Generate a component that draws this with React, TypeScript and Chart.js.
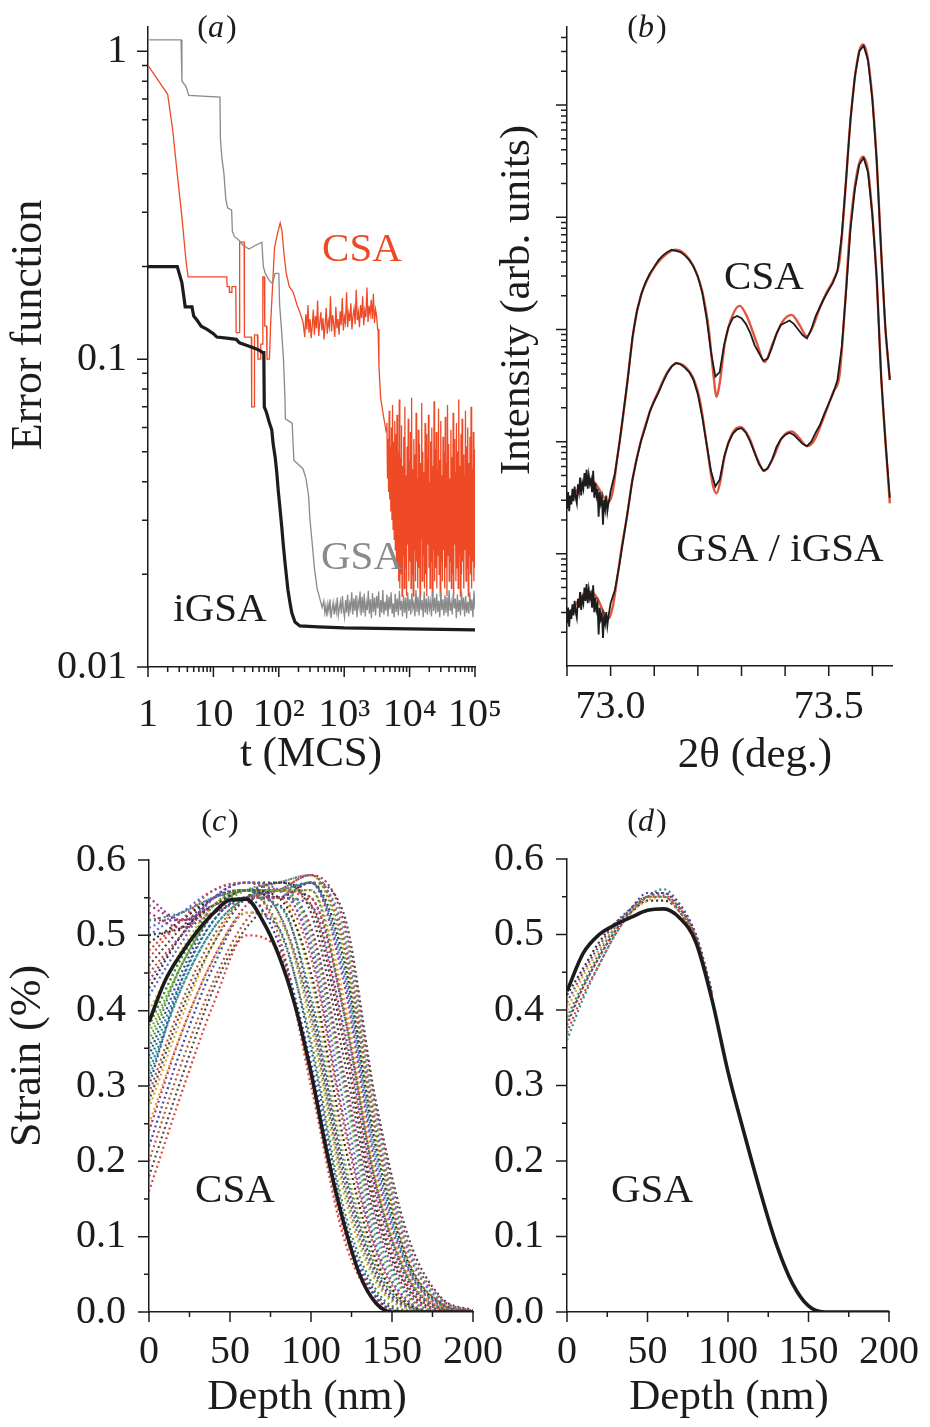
import React, { useEffect, useRef } from 'react';
import { Chart, registerables } from 'chart.js';
Chart.register(...registerables);

const FONT = '"Liberation Serif", "Times New Roman", "DejaVu Serif", serif';
const INK = '#1c1c1c';
const RED = '#ee4a26';
const FIT_RED = '#e2553c';
const GRAY = '#8a8a8a';

// ---------------- Panel (a): error function vs t (MCS) ----------------
const aXTickValues = [1, 10, 100, 1000, 10000, 100000];
const aXTickLabels = ['1', '10', '10²', '10³', '10⁴', '10⁵'];
const aYTickValues = [0.01, 0.1, 1];
const aYTickLabels = ['0.01', '0.1', '1'];

// iGSA  [t, E]
const aIgsaPoints = [[1, 0.2], [2.8, 0.2], [3.0, 0.19], [3.3, 0.177], [3.6, 0.155], [3.7, 0.148], [4.7, 0.148], [5.0, 0.138], [5.6, 0.134], [6.5, 0.128], [8, 0.125], [10, 0.121], [11.3, 0.118], [16, 0.117], [22.4, 0.116], [25, 0.113], [32, 0.111], [40.6, 0.109], [50, 0.107], [57, 0.105], [59, 0.105], [60, 0.07], [65, 0.067], [72, 0.062], [78, 0.059], [82, 0.053], [88, 0.048], [93, 0.043], [98, 0.0375], [104, 0.033], [111, 0.0285], [117, 0.025], [124, 0.022], [130, 0.02], [138, 0.0178], [148, 0.0162], [158, 0.015], [177, 0.014], [210, 0.0136], [400, 0.0135], [1000, 0.0134], [10000, 0.0133], [100000, 0.0132]];

// GSA  [t, E] before the noisy plateau
const aGsaPoints = [[1, 1.09], [3.2, 1.09], [3.3, 0.8], [3.8, 0.77], [4.2, 0.72], [12.6, 0.71], [12.8, 0.52], [13.5, 0.45], [14.5, 0.4], [15.5, 0.33], [16.5, 0.31], [19, 0.305], [19.5, 0.26], [21, 0.25], [24, 0.245], [28, 0.235], [35, 0.228], [45, 0.235], [55, 0.24], [58, 0.2], [62, 0.19], [72, 0.18], [80, 0.176], [88, 0.19], [100, 0.19], [103, 0.15], [110, 0.125], [118, 0.1], [124, 0.075], [126, 0.064], [160, 0.062], [170, 0.047], [235, 0.044], [260, 0.041], [285, 0.036], [300, 0.03], [320, 0.026], [350, 0.021], [385, 0.018], [430, 0.0165], [460, 0.0156]];
// GSA plateau noise (E x 1e-3), t from 470 to 1e5
const aGsaNoiseRange = [470, 100000];
const aGsaNoiseMilli = [15.6, 16.4, 15.0, 15.8, 14.6, 16.0, 15.2, 16.6, 14.4, 15.4, 16.2, 14.8, 15.9, 15.1, 16.8, 14.7, 15.5, 16.3, 14.9, 17.0, 15.3, 14.5, 16.5, 15.0, 17.2, 14.6, 16.1, 15.4, 17.5, 14.8, 16.7, 15.2, 17.1, 14.5, 16.4, 15.6, 17.6, 14.7, 16.9, 15.0, 17.3, 14.6, 16.2, 15.3, 17.7, 14.9, 16.6, 14.4, 17.4, 15.1, 16.8, 14.7, 17.0, 15.5, 17.6, 14.5, 16.5, 15.0, 17.8, 14.8, 16.3, 15.2, 17.2, 14.6, 16.9, 15.4, 17.5, 14.9, 16.1, 14.5, 17.3, 15.1, 16.7, 14.7, 17.7, 15.3, 16.4, 14.6, 17.1, 15.0, 16.8, 14.4, 17.5, 15.2, 16.6, 14.8, 17.4, 15.5, 16.2, 14.6, 17.8, 15.1, 16.9, 14.7, 17.2, 15.3, 16.5, 14.5, 17.6, 15.0, 16.7, 14.8, 17.0, 15.4, 16.3, 14.6, 17.7, 15.2, 16.8, 14.9, 17.3, 15.1, 16.4, 14.5, 17.5, 15.3, 16.6, 14.7, 17.1, 15.0, 16.9, 14.6, 17.8, 15.2, 16.2, 14.8, 17.4, 15.5, 16.7, 14.4, 17.2, 15.1, 16.5, 14.7, 17.6, 15.3, 16.8, 14.6, 17.0, 15.0, 16.3, 14.9, 17.5, 15.2, 16.6, 14.5, 17.7, 15.4];

// CSA  [t, E] early part
const aCsaPoints = [[1, 0.9], [2.0, 0.725], [2.4, 0.55], [2.8, 0.4], [3.3, 0.29], [3.8, 0.21], [4.1, 0.185], [16, 0.185], [16.2, 0.172], [17.5, 0.172], [17.6, 0.165], [19, 0.165], [19.2, 0.172], [22, 0.172], [22.3, 0.122], [25, 0.122], [25.2, 0.24], [29.5, 0.24], [29.8, 0.118], [38, 0.118], [38.5, 0.07], [42, 0.07], [42.5, 0.12], [47, 0.12], [48, 0.1], [52, 0.1], [53, 0.112], [56, 0.112], [57, 0.185], [60, 0.185], [61, 0.128], [65, 0.128], [66, 0.1], [72, 0.1], [75, 0.13], [80, 0.17], [86, 0.23], [95, 0.255], [105, 0.277], [112, 0.26], [120, 0.22], [130, 0.19], [145, 0.172], [166, 0.165], [190, 0.15], [210, 0.142], [235, 0.132]];
// CSA first noisy plateau (E x 1e-3), t from 240 to 3250
const aCsaMidRange = [240, 3250];
const aCsaMidMilli = [132, 118, 140, 125, 150, 122, 135, 117, 128, 145, 120, 138, 126, 155, 119, 131, 142, 124, 136, 116, 129, 147, 121, 133, 127, 160, 123, 139, 130, 118, 148, 126, 135, 120, 143, 129, 158, 124, 137, 131, 165, 127, 141, 133, 152, 125, 138, 146, 130, 168, 134, 142, 127, 150, 136, 160, 129, 144, 137, 171, 132, 149, 140, 156, 135, 163, 131, 145, 138, 125];
const aCsaDropPoints = [[3300, 0.125], [3400, 0.095], [3600, 0.075], [4000, 0.065], [4400, 0.058]];
// CSA wide noisy band (E x 1e-3), t from 4500 to 1e5
const aCsaBandRange = [4500, 100000];
const aCsaBandMilli = [62, 41, 55, 37, 68, 35, 52, 32, 60, 30, 71, 28, 54, 26, 63, 24, 57, 22, 66, 21, 50, 19, 74, 18, 48, 20, 61, 17, 45, 23, 56, 18, 70, 21, 42, 17, 52, 25, 64, 19, 47, 22, 58, 18, 75, 20, 44, 17, 55, 24, 49, 19, 67, 22, 41, 18, 59, 21, 53, 17, 46, 26, 72, 19, 50, 23, 43, 18, 62, 20, 57, 17, 48, 25, 66, 21, 40, 18, 54, 22, 60, 17, 45, 24, 73, 19, 51, 21, 58, 18, 44, 23, 69, 20, 47, 17, 63, 22, 42, 19, 56, 24, 50, 18, 65, 21, 46, 17, 71, 23, 53, 19, 41, 22, 59, 18, 48, 20, 67, 17, 55, 25, 43, 19, 62, 21, 50, 18, 74, 23, 45, 17, 57, 20, 64, 22, 49, 18, 42, 24, 68, 19, 52, 21, 60, 17, 46, 23, 56, 20, 70, 18, 44, 22, 58, 19, 51, 21];

// ---------------- Panel (b): intensity vs 2theta ----------------
const bXTickValues = [73.0, 73.5];
const bXTickLabels = ['73.0', '73.5'];
const bXTickMarks = [72.9, 73.0, 73.1, 73.2, 73.3, 73.4, 73.5, 73.6];
// values are log10(intensity)
const bFitCsa = [[72.9, 1.46], [72.92, 1.55], [72.94, 1.64], [72.955, 1.66], [72.97, 1.6], [72.985, 1.5], [72.995, 1.46], [73.005, 1.56], [73.015, 1.85], [73.025, 2.12], [73.035, 2.42], [73.045, 2.76], [73.055, 3.05], [73.07, 3.31], [73.085, 3.45], [73.105, 3.58], [73.13, 3.68], [73.15, 3.71], [73.175, 3.65], [73.195, 3.52], [73.21, 3.34], [73.225, 3.0], [73.235, 2.62], [73.243, 2.4], [73.25, 2.52], [73.262, 2.88], [73.28, 3.13], [73.296, 3.21], [73.312, 3.12], [73.335, 2.88], [73.353, 2.71], [73.372, 2.88], [73.394, 3.07], [73.415, 3.13], [73.433, 3.04], [73.45, 2.94], [73.465, 3.04], [73.48, 3.2], [73.495, 3.33], [73.512, 3.45], [73.525, 3.62], [73.537, 4.18], [73.548, 4.78], [73.56, 5.25], [73.57, 5.48], [73.578, 5.54], [73.588, 5.45], [73.6, 5.06], [73.61, 4.5], [73.62, 3.72], [73.63, 3.0], [73.64, 2.55]];
const bFitGsa = [[72.9, 0.45], [72.92, 0.55], [72.94, 0.64], [72.955, 0.66], [72.97, 0.6], [72.985, 0.47], [72.995, 0.42], [73.005, 0.53], [73.015, 0.78], [73.025, 1.05], [73.037, 1.32], [73.05, 1.66], [73.067, 1.97], [73.09, 2.27], [73.112, 2.47], [73.13, 2.62], [73.151, 2.7], [73.17, 2.67], [73.19, 2.56], [73.205, 2.36], [73.22, 1.98], [73.235, 1.6], [73.243, 1.54], [73.25, 1.62], [73.262, 1.88], [73.28, 2.08], [73.298, 2.13], [73.317, 2.04], [73.337, 1.84], [73.352, 1.74], [73.372, 1.85], [73.392, 2.03], [73.415, 2.09], [73.433, 2.03], [73.45, 1.96], [73.465, 2.0], [73.487, 2.2], [73.51, 2.44], [73.525, 2.6], [73.537, 3.2], [73.548, 3.85], [73.564, 4.38], [73.578, 4.54], [73.59, 4.42], [73.6, 4.02], [73.61, 3.45], [73.62, 2.6], [73.63, 2.0], [73.64, 1.45]];
// measured: noisy start sampled every 0.0025 deg from 72.9, then every 0.01 deg from 73.01
const bNoiseStart = 72.9, bNoiseStep = 0.0025, bMainStart = 73.01, bMainStep = 0.01;
const bMeasCsaNoise = [1.40, 1.55, 1.38, 1.52, 1.44, 1.58, 1.47, 1.60, 1.50, 1.45, 1.62, 1.55, 1.68, 1.52, 1.63, 1.58, 1.72, 1.60, 1.75, 1.58, 1.70, 1.62, 1.66, 1.55, 1.74, 1.50, 1.63, 1.52, 1.58, 1.33, 1.55, 1.45, 1.50, 1.26, 1.48, 1.40, 1.52, 1.38, 1.45, 1.50, 1.56];
const bMeasCsaMain = [1.72, 1.98, 2.28, 2.58, 2.93, 3.16, 3.31, 3.42, 3.50, 3.56, 3.62, 3.66, 3.69, 3.71, 3.70, 3.69, 3.66, 3.62, 3.56, 3.47, 3.33, 3.10, 2.80, 2.58, 2.62, 2.86, 3.02, 3.10, 3.12, 3.10, 3.05, 2.97, 2.86, 2.79, 2.72, 2.74, 2.84, 2.96, 3.04, 3.06, 3.08, 3.05, 3.00, 2.95, 2.92, 3.00, 3.12, 3.20, 3.28, 3.35, 3.42, 3.52, 3.85, 4.35, 4.88, 5.26, 5.48, 5.53, 5.40, 5.05, 4.50, 3.70, 3.00, 2.55];
const bMeasGsaNoise = [0.38, 0.52, 0.35, 0.50, 0.42, 0.55, 0.45, 0.58, 0.48, 0.43, 0.60, 0.52, 0.66, 0.50, 0.61, 0.56, 0.70, 0.58, 0.73, 0.56, 0.68, 0.60, 0.64, 0.52, 0.72, 0.48, 0.61, 0.50, 0.55, 0.28, 0.52, 0.42, 0.46, 0.25, 0.44, 0.38, 0.48, 0.36, 0.44, 0.50, 0.56];
const bMeasGsaMain = [0.68, 0.90, 1.15, 1.40, 1.66, 1.85, 2.01, 2.13, 2.27, 2.36, 2.44, 2.53, 2.61, 2.67, 2.70, 2.69, 2.66, 2.62, 2.55, 2.42, 2.22, 1.98, 1.74, 1.60, 1.66, 1.86, 1.99, 2.07, 2.11, 2.12, 2.08, 2.00, 1.90, 1.80, 1.74, 1.76, 1.84, 1.95, 2.02, 2.06, 2.08, 2.06, 2.02, 1.98, 1.96, 2.00, 2.08, 2.15, 2.25, 2.34, 2.43, 2.55, 2.85, 3.35, 3.90, 4.25, 4.47, 4.53, 4.40, 4.02, 3.45, 2.58, 2.00, 1.50];

// ---------------- Panels (c) and (d): strain vs depth ----------------
const depthTickValues = [0, 50, 100, 150, 200];
const depthTickLabels = ['0', '50', '100', '150', '200'];
const strainTickValues = [0, 0.1, 0.2, 0.3, 0.4, 0.5, 0.6];
const strainTickLabels = ['0.0', '0.1', '0.2', '0.3', '0.4', '0.5', '0.6'];
const depthFine = [0, 10, 20, 30, 40, 50, 60, 70, 80, 90, 100, 110, 120, 130, 140, 150, 160, 170, 180, 190, 200];
const depthCoarse = [0, 20, 40, 60, 80, 100, 120, 140, 160, 180, 200];
const depthNear = [0, 10, 20, 30, 40, 50, 60, 70, 80, 90];

const cBestCsa = [0.385, 0.44, 0.476, 0.506, 0.53, 0.547, 0.548, 0.52, 0.474, 0.408, 0.318, 0.21, 0.12, 0.05, 0.012, 0, 0, 0, 0, 0, 0];
const cRunsCsa = [
  [0.16, 0.29, 0.41, 0.50, 0.48, 0.30, 0.10, 0.015, 0, 0, 0],
  [0.30, 0.44, 0.52, 0.55, 0.49, 0.33, 0.12, 0.02, 0, 0, 0],
  [0.38, 0.47, 0.54, 0.56, 0.51, 0.36, 0.14, 0.03, 0.002, 0, 0],
  [0.25, 0.37, 0.47, 0.53, 0.52, 0.38, 0.16, 0.04, 0.004, 0, 0],
  [0.44, 0.50, 0.55, 0.56, 0.53, 0.40, 0.18, 0.05, 0.006, 0, 0],
  [0.33, 0.44, 0.52, 0.55, 0.54, 0.42, 0.20, 0.06, 0.008, 0, 0],
  [0.50, 0.51, 0.54, 0.56, 0.55, 0.45, 0.23, 0.07, 0.01, 0, 0],
  [0.20, 0.33, 0.44, 0.52, 0.55, 0.47, 0.25, 0.08, 0.012, 0, 0],
  [0.42, 0.49, 0.55, 0.57, 0.56, 0.49, 0.28, 0.09, 0.015, 0, 0],
  [0.36, 0.46, 0.53, 0.56, 0.56, 0.50, 0.30, 0.10, 0.02, 0.001, 0],
  [0.53, 0.51, 0.53, 0.55, 0.55, 0.51, 0.32, 0.12, 0.025, 0.002, 0],
  [0.28, 0.40, 0.49, 0.55, 0.57, 0.53, 0.34, 0.13, 0.03, 0.003, 0],
  [0.47, 0.52, 0.56, 0.57, 0.56, 0.54, 0.37, 0.15, 0.035, 0.004, 0],
  [0.34, 0.45, 0.53, 0.56, 0.55, 0.54, 0.38, 0.16, 0.04, 0.005, 0],
  [0.52, 0.53, 0.55, 0.56, 0.56, 0.56, 0.40, 0.17, 0.045, 0.006, 0],
  [0.40, 0.48, 0.54, 0.56, 0.56, 0.56, 0.42, 0.18, 0.05, 0.007, 0],
  [0.55, 0.52, 0.54, 0.55, 0.55, 0.57, 0.44, 0.19, 0.055, 0.008, 0],
  [0.31, 0.43, 0.51, 0.55, 0.56, 0.57, 0.46, 0.21, 0.06, 0.01, 0],
  [0.49, 0.52, 0.55, 0.56, 0.55, 0.57, 0.47, 0.22, 0.065, 0.011, 0],
  [0.45, 0.50, 0.54, 0.55, 0.56, 0.58, 0.49, 0.24, 0.07, 0.012, 0],
  [0.51, 0.53, 0.55, 0.56, 0.57, 0.58, 0.50, 0.25, 0.08, 0.014, 0],
  [0.38, 0.47, 0.53, 0.56, 0.56, 0.57, 0.51, 0.26, 0.085, 0.016, 0],
  [0.54, 0.52, 0.53, 0.55, 0.56, 0.58, 0.52, 0.27, 0.09, 0.018, 0.001],
  [0.46, 0.51, 0.55, 0.56, 0.55, 0.57, 0.53, 0.28, 0.10, 0.02, 0.002],
  [0.48, 0.52, 0.55, 0.56, 0.50, 0.31, 0.11, 0.02, 0, 0, 0],
  [0.22, 0.35, 0.46, 0.53, 0.51, 0.35, 0.13, 0.025, 0.001, 0, 0],
  [0.35, 0.46, 0.53, 0.56, 0.53, 0.39, 0.17, 0.045, 0.005, 0, 0],
  [0.27, 0.39, 0.49, 0.55, 0.55, 0.44, 0.21, 0.065, 0.009, 0, 0],
  [0.52, 0.52, 0.54, 0.56, 0.56, 0.48, 0.26, 0.085, 0.014, 0, 0],
  [0.32, 0.43, 0.51, 0.55, 0.56, 0.51, 0.31, 0.11, 0.022, 0.001, 0],
  [0.43, 0.50, 0.55, 0.57, 0.57, 0.54, 0.36, 0.14, 0.033, 0.004, 0],
  [0.29, 0.41, 0.50, 0.55, 0.56, 0.55, 0.41, 0.175, 0.048, 0.007, 0],
  [0.50, 0.53, 0.56, 0.57, 0.56, 0.57, 0.45, 0.20, 0.058, 0.009, 0],
  [0.37, 0.46, 0.53, 0.56, 0.57, 0.58, 0.48, 0.23, 0.068, 0.012, 0],
  [0.24, 0.37, 0.47, 0.54, 0.56, 0.55, 0.40, 0.17, 0.045, 0.006, 0],
  [0.18, 0.31, 0.43, 0.51, 0.54, 0.41, 0.19, 0.055, 0.007, 0, 0],
];
const dBestGsa = [0.425, 0.475, 0.50, 0.513, 0.523, 0.532, 0.534, 0.522, 0.49, 0.414, 0.318, 0.237, 0.16, 0.09, 0.038, 0.008, 0, 0, 0, 0, 0];
const dRunsGsa = [
  [0.37, 0.42, 0.46, 0.50, 0.53, 0.55, 0.55, 0.53, 0.495, 0.422],
  [0.38, 0.43, 0.47, 0.505, 0.535, 0.555, 0.555, 0.535, 0.50, 0.425],
  [0.39, 0.435, 0.475, 0.51, 0.535, 0.55, 0.55, 0.53, 0.495, 0.42],
  [0.40, 0.445, 0.48, 0.51, 0.53, 0.545, 0.55, 0.53, 0.495, 0.42],
  [0.41, 0.45, 0.485, 0.515, 0.535, 0.55, 0.555, 0.54, 0.50, 0.425],
  [0.36, 0.415, 0.46, 0.50, 0.53, 0.55, 0.56, 0.54, 0.50, 0.424],
  [0.42, 0.455, 0.49, 0.515, 0.53, 0.545, 0.545, 0.53, 0.49, 0.418],
  [0.385, 0.43, 0.47, 0.505, 0.53, 0.55, 0.552, 0.535, 0.497, 0.42],
];
const runColors = ['#d9443a', '#3b4ba0', '#3f8f4a', '#e0a92e', '#8a3f96', '#2a8c8c', '#333333', '#c0562d', '#5a6ad0', '#7aa83a', '#b03070', '#4a4a4a'];

// ---------------- helpers ----------------
const pairs = (arr: number[][]) => arr.map(([x, y]) => ({ x, y }));
const milliBand = (vals: number[], range: number[]) => {
  const l0 = Math.log10(range[0]);
  const l1 = Math.log10(range[1]);
  return vals.map((v, i) => ({ x: 10 ** (l0 + (i / (vals.length - 1)) * (l1 - l0)), y: v / 1000 }));
};
const decades = (arr: number[][]) => arr.map(([x, v]) => ({ x, y: 10 ** v }));
const gridDecades = (vals: number[], start: number, step: number) => vals.map((v, i) => ({ x: start + i * step, y: 10 ** v }));
const zip = (xs: number[], ys: number[]) => ys.map((y, i) => ({ x: xs[i], y }));

const logMinors = (lo: number, hi: number, min: number, max: number) => {
  const out: number[] = [];
  for (let n = lo; n <= hi; n++) for (let k = 2; k <= 9; k++) {
    const v = k * 10 ** n;
    if (v > min && v < max) out.push(v);
  }
  return out;
};

type Txt = { text: string; x: number; y: number; size: number; color?: string; rotate?: boolean };

function makeDecor(offset: number[], xTicks: number[][], yTicks: number[][], texts: Txt[], panel: { letter: string; x: number; y: number }) {
  return {
    id: 'decor',
    afterDraw(chart: any) {
      const { ctx, chartArea, scales } = chart;
      ctx.save();
      ctx.strokeStyle = INK;
      ctx.lineWidth = 1.5;
      ctx.beginPath();
      for (const [v, len] of xTicks) {
        const p = scales.x.getPixelForValue(v);
        ctx.moveTo(p, chartArea.bottom);
        ctx.lineTo(p, chartArea.bottom + len);
      }
      for (const [v, len] of yTicks) {
        const p = scales.y.getPixelForValue(v);
        ctx.moveTo(chartArea.left - len, p);
        ctx.lineTo(chartArea.left, p);
      }
      ctx.stroke();
      ctx.textAlign = 'center';
      ctx.textBaseline = 'middle';
      for (const t of texts) {
        ctx.fillStyle = t.color || INK;
        ctx.font = `${t.size}px ${FONT}`;
        const x = t.x - offset[0];
        const y = t.y - offset[1];
        if (t.rotate) {
          ctx.save();
          ctx.translate(x, y);
          ctx.rotate(-Math.PI / 2);
          ctx.fillText(t.text, 0, 0);
          ctx.restore();
        } else ctx.fillText(t.text, x, y);
      }
      // panel label: upright parentheses, italic letter
      ctx.fillStyle = INK;
      ctx.textAlign = 'left';
      const up = `32px ${FONT}`;
      const it = `italic 32px ${FONT}`;
      ctx.font = up;
      const wp = ctx.measureText('(').width;
      const wq = ctx.measureText(')').width;
      ctx.font = it;
      const wl = ctx.measureText(panel.letter).width;
      let x = panel.x - offset[0] - (wp + wl + wq + 2) / 2;
      const y = panel.y - offset[1];
      ctx.font = up;
      ctx.fillText('(', x, y);
      x += wp;
      ctx.font = it;
      ctx.fillText(panel.letter, x, y);
      x += wl + 2;
      ctx.font = up;
      ctx.fillText(')', x, y);
      ctx.restore();
    },
  };
}

const tickFont = { family: FONT, size: 40 };

function axis(opts: any) {
  const { type, min, max, values, labels, padding, fit, horizontal, showLabels = true } = opts;
  return {
    type,
    min,
    max,
    grid: { display: false, drawTicks: false },
    border: { display: true, color: INK, width: 1.5 },
    afterBuildTicks: (s: any) => {
      s.ticks = values.map((v: number) => ({ value: v }));
    },
    ticks: {
      display: showLabels,
      autoSkip: false,
      maxRotation: 0,
      minRotation: 0,
      padding,
      color: INK,
      font: tickFont,
      callback: (_v: any, i: number) => labels[i],
    },
    afterFit: (s: any) => {
      if (horizontal) s.height = fit;
      else s.width = fit;
      s.paddingLeft = 0;
      s.paddingRight = 0;
      s.paddingTop = 0;
      s.paddingBottom = 0;
    },
  };
}

const baseOptions = (padding: any) => ({
  animation: false,
  responsive: false,
  devicePixelRatio: 1,
  layout: { padding },
  plugins: { legend: { display: false }, tooltip: { enabled: false } },
  elements: { point: { radius: 0 }, line: { tension: 0 } },
});

// ---------------- panel configs ----------------
const PANELS = {
  a: { left: 0, top: 0, width: 505, height: 790 },
  b: { left: 480, top: 0, width: 450, height: 790 },
  c: { left: 0, top: 790, width: 510, height: 637 },
  d: { left: 460, top: 790, width: 470, height: 637 },
};

function configA() {
  const p = PANELS.a;
  const xTicks = [...aXTickValues.map((v) => [v, 10]), ...logMinors(0, 4, 1, 1e5).map((v) => [v, 5])];
  const yTicks = [...aYTickValues.map((v) => [v, 11]), ...logMinors(-2, -1, 0.01, 1.2).map((v) => [v, 6])];
  const texts: Txt[] = [
    { text: 'Error function', x: 29, y: 325, size: 44, rotate: true },
    { text: 't (MCS)', x: 311, y: 755, size: 43 },
    { text: 'CSA', x: 362, y: 250, size: 41, color: RED },
    { text: 'GSA', x: 362, y: 558, size: 41, color: GRAY },
    { text: 'iGSA', x: 220, y: 610, size: 41 },
  ];
  const gsa = [...pairs(aGsaPoints), ...milliBand(aGsaNoiseMilli, aGsaNoiseRange)];
  const csa = [...pairs(aCsaPoints), ...milliBand(aCsaMidMilli, aCsaMidRange), ...pairs(aCsaDropPoints), ...milliBand(aCsaBandMilli, aCsaBandRange)];
  return {
    type: 'line',
    data: {
      datasets: [
        { label: 'iGSA', data: pairs(aIgsaPoints), borderColor: INK, borderWidth: 3.2, order: 0 },
        { label: 'GSA', data: gsa, borderColor: GRAY, borderWidth: 1.3, order: 1 },
        { label: 'CSA', data: csa, borderColor: RED, borderWidth: 1.3, order: 2 },
      ],
    },
    options: {
      ...baseOptions({ left: 0, top: 27, right: p.width - 475, bottom: 0 }),
      scales: {
        x: axis({ type: 'logarithmic', min: 1, max: 1e5, values: aXTickValues, labels: aXTickLabels, padding: 24, fit: p.height - 667, horizontal: true }),
        y: axis({ type: 'logarithmic', min: 0.01, max: 1.2, values: aYTickValues, labels: aYTickLabels, padding: 21, fit: 148, horizontal: false }),
      },
    },
    plugins: [makeDecor([p.left, p.top], xTicks, yTicks, texts, { letter: 'a', x: 217, y: 29 })],
  };
}

function configB() {
  const p = PANELS.b;
  const xTicks = bXTickMarks.map((v) => [v, 10]);
  const majors = [10, 100, 1000, 10000, 100000];
  const yTicks = [...majors.map((v) => [v, 11]), ...logMinors(0, 5, 1, 10 ** 5.696).map((v) => [v, 6])];
  const texts: Txt[] = [
    { text: 'Intensity (arb. units)', x: 518, y: 300, size: 43, rotate: true },
    { text: '2θ (deg.)', x: 755, y: 756, size: 43 },
    { text: 'CSA', x: 764, y: 278, size: 41 },
    { text: 'GSA / iGSA', x: 780, y: 550, size: 41 },
  ];
  const measCsa = [...gridDecades(bMeasCsaNoise, bNoiseStart, bNoiseStep), ...gridDecades(bMeasCsaMain, bMainStart, bMainStep)];
  const measGsa = [...gridDecades(bMeasGsaNoise, bNoiseStart, bNoiseStep), ...gridDecades(bMeasGsaMain, bMainStart, bMainStep)];
  return {
    type: 'line',
    data: {
      datasets: [
        { label: 'CSA measured', data: measCsa, borderColor: INK, borderWidth: 1.8, order: 0 },
        { label: 'GSA measured', data: measGsa, borderColor: INK, borderWidth: 1.8, order: 1 },
        { label: 'CSA fit', data: decades(bFitCsa), borderColor: FIT_RED, borderWidth: 2.4, cubicInterpolationMode: 'monotone', order: 2 },
        { label: 'GSA fit', data: decades(bFitGsa), borderColor: FIT_RED, borderWidth: 2.4, cubicInterpolationMode: 'monotone', order: 3 },
      ],
    },
    options: {
      ...baseOptions({ left: 0, top: 27, right: p.width - (892 - p.left), bottom: 0 }),
      scales: {
        x: axis({ type: 'linear', min: 72.9, max: 73.645, values: bXTickValues, labels: bXTickLabels, padding: 17, fit: p.height - 666, horizontal: true }),
        y: axis({ type: 'logarithmic', min: 1, max: 10 ** 5.696, values: majors, labels: ['', '', '', '', ''], padding: 10, fit: 567 - p.left, horizontal: false, showLabels: false }),
      },
    },
    plugins: [makeDecor([p.left, p.top], xTicks, yTicks, texts, { letter: 'b', x: 647, y: 29 })],
  };
}

function strainConfig(which: 'c' | 'd') {
  const p = PANELS[which];
  const axisLeft = which === 'c' ? 149 : 567;
  const axisRight = which === 'c' ? 473 : 889;
  const axisTop = which === 'c' ? 860 : 859;
  const axisBottom = 1312;
  const xTicks = [...depthTickValues.map((v) => [v, 10]), ...[25, 75, 125, 175].map((v) => [v, 5])];
  const yTicks = [...strainTickValues.map((v) => [v, 11]), ...[0.05, 0.15, 0.25, 0.35, 0.45, 0.55].map((v) => [v, 5])];
  const texts: Txt[] =
    which === 'c'
      ? [
          { text: 'Strain (%)', x: 28, y: 1056, size: 44, rotate: true },
          { text: 'Depth (nm)', x: 307, y: 1398, size: 43 },
          { text: 'CSA', x: 235, y: 1191, size: 41 },
        ]
      : [
          { text: 'Depth (nm)', x: 729, y: 1398, size: 43 },
          { text: 'GSA', x: 652, y: 1191, size: 41 },
        ];
  const runs = which === 'c' ? cRunsCsa : dRunsGsa;
  const runX = which === 'c' ? depthCoarse : depthNear;
  const best = which === 'c' ? cBestCsa : dBestGsa;
  const datasets: any[] = [
    { label: 'best', data: zip(depthFine, best), borderColor: INK, borderWidth: 3.6, cubicInterpolationMode: 'monotone', order: 0 },
    ...runs.map((r, i) => ({
      label: `run ${i + 1}`,
      data: zip(runX, r),
      borderColor: runColors[i % runColors.length],
      borderWidth: 2.2,
      borderDash: [2, 3],
      cubicInterpolationMode: 'monotone',
      order: i + 1,
    })),
  ];
  return {
    type: 'line',
    data: { datasets },
    options: {
      ...baseOptions({ left: 0, top: axisTop - p.top, right: p.width - (axisRight - p.left), bottom: 0 }),
      scales: {
        x: axis({ type: 'linear', min: 0, max: 200, values: depthTickValues, labels: depthTickLabels, padding: 16, fit: p.top + p.height - axisBottom, horizontal: true }),
        y: axis({ type: 'linear', min: 0, max: 0.6, values: strainTickValues, labels: strainTickLabels, padding: 23, fit: axisLeft - p.left, horizontal: false }),
      },
    },
    plugins: [makeDecor([p.left, p.top], xTicks, yTicks, texts, { letter: which, x: which === 'c' ? 220 : 647, y: 823 })],
  };
}

function ChartCanvas({ make, box }: { make: () => any; box: { left: number; top: number; width: number; height: number } }) {
  const ref = useRef<HTMLCanvasElement | null>(null);
  useEffect(() => {
    const chart = new Chart(ref.current as HTMLCanvasElement, make());
    return () => chart.destroy();
  }, []);
  return (
    <canvas
      ref={ref}
      width={box.width}
      height={box.height}
      style={{ position: 'absolute', left: box.left, top: box.top, width: box.width, height: box.height }}
    />
  );
}

export default function App() {
  return (
    <div style={{ position: 'absolute', left: 0, top: 0, width: 930, height: 1427, background: '#ffffff', overflow: 'hidden' }}>
      <ChartCanvas make={configA} box={PANELS.a} />
      <ChartCanvas make={configB} box={PANELS.b} />
      <ChartCanvas make={() => strainConfig('c')} box={PANELS.c} />
      <ChartCanvas make={() => strainConfig('d')} box={PANELS.d} />
    </div>
  );
}
